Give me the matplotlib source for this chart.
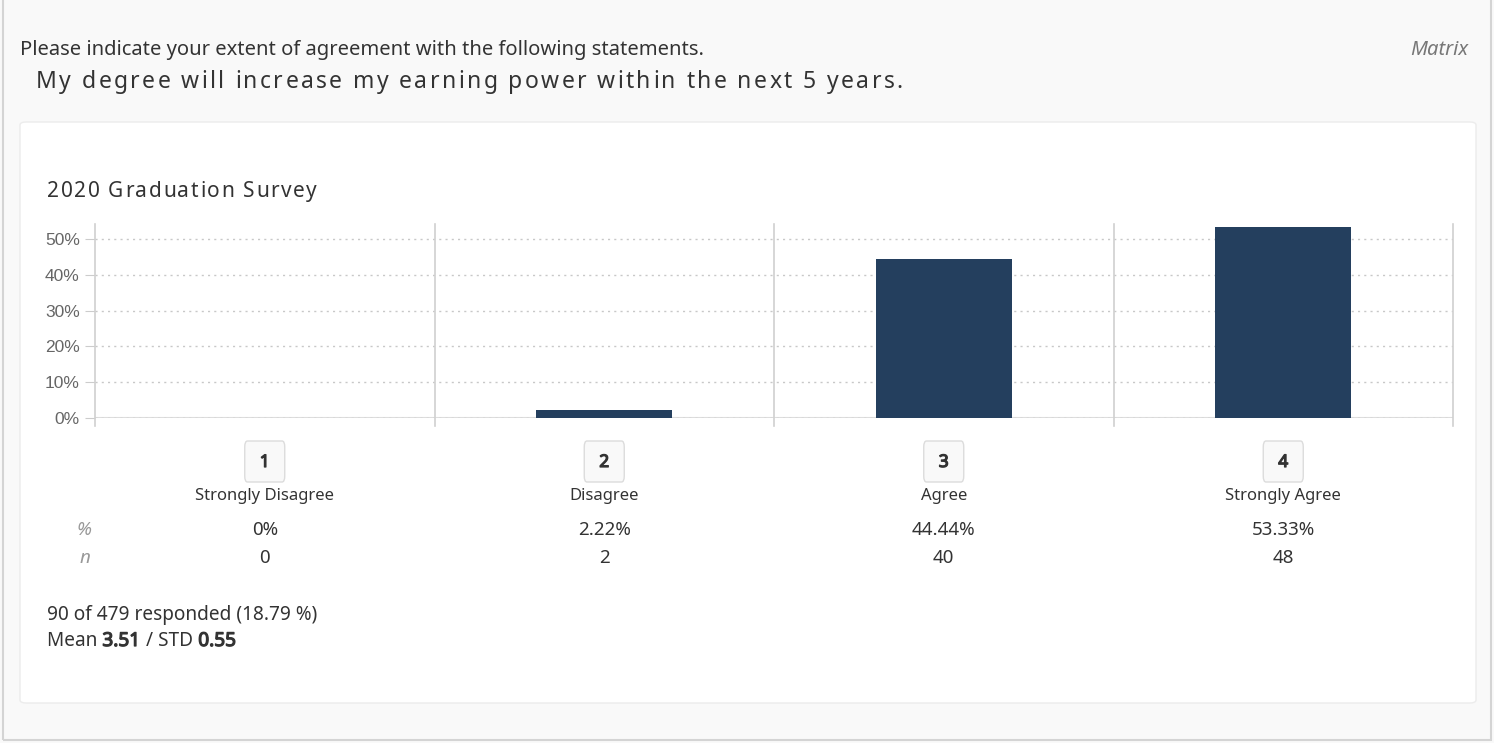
import matplotlib.pyplot as plt
import matplotlib.patheffects as pe
from matplotlib.patches import FancyBboxPatch, Rectangle
from matplotlib.transforms import blended_transform_factory

plt.rcParams['font.family'] = ['Noto Sans', 'DejaVu Sans']

# data
codes = ['1', '2', '3', '4']
labels = ['Strongly Disagree', 'Disagree', 'Agree', 'Strongly Agree']
percents = [0.0, 2.22, 44.44, 53.33]
counts = [0, 2, 40, 48]
pct_text = ['0%', '2.22%', '44.44%', '53.33%']
yticks = [0, 10, 20, 30, 40, 50]

W, H = 1494, 743
fig = plt.figure(figsize=(W / 100, H / 100), dpi=100)
fig.patch.set_facecolor('#f9f9f9')
renderer = fig.canvas.get_renderer()

# bold weight of the installed Noto Sans is not picked up, so thicken with a stroke
bold = [pe.withStroke(linewidth=0.9, foreground='#333333')]


def fx(px):
    return px / W


def fy(py):
    return 1 - py / H


def text_w(s, **kw):
    t = fig.text(0, 0, s, **kw)
    w = t.get_window_extent(renderer=renderer).width
    t.remove()
    return w


def advance(s, **kw):
    # width of s including trailing spaces
    return text_w(s + 'l', **kw) - text_w('l', **kw)


def spaced_text(x, y, s, sp, **kw):
    # text with letter spacing (sp in pixels)
    for i, ch in enumerate(s):
        if ch == ' ':
            continue
        xi = x + advance(s[:i], **kw) + i * sp
        fig.text(fx(xi), fy(y), ch, ha='left', va='baseline', **kw)


# outer border and card
fig.patches.append(Rectangle((fx(3), fy(740)), fx(1488), 745 / H, transform=fig.transFigure,
                             fill=False, edgecolor='#d4d4d4', lw=1.5))
fig.patches.append(FancyBboxPatch((fx(20), fy(703)), fx(1456), (703 - 122) / H,
                                  boxstyle='round,pad=0,rounding_size=0.004',
                                  transform=fig.transFigure, facecolor='white',
                                  edgecolor='#ececec', lw=1))

# headings
fig.text(fx(20), fy(55), 'Please indicate your extent of agreement with the following statements.',
         fontsize=14.5, color='#333333', va='baseline', ha='left')
fig.text(fx(1468), fy(55), 'Matrix', fontsize=14.5, color='#777777', style='italic',
         va='baseline', ha='right')
spaced_text(36, 88, 'My degree will increase my earning power within the next 5 years.', 2.4,
            fontsize=16.5, color='#333333')
spaced_text(47, 197, '2020 Graduation Survey', 1.6, fontsize=15, color='#333333')

# chart
ax = fig.add_axes([fx(95), 1 - 418 / H, fx(1453 - 95), (418 - 224) / H])
ax.set_zorder(2)
ax.patch.set_alpha(0)
ax.set_xlim(-0.5, 3.5)
ax.set_ylim(0, 54.2)
ax.bar(range(len(percents)), percents, width=0.4, color='#243f5e', zorder=3)

for s in ['top', 'right', 'bottom', 'left']:
    ax.spines[s].set_visible(False)
ax.set_yticks(yticks)
ax.set_yticklabels([f'{t}%' for t in yticks], family=['Liberation Sans', 'DejaVu Sans'])
ax.tick_params(axis='y', colors='#cccccc', labelcolor='#666666', labelsize=12.5, length=7, pad=4)
ax.set_xticks([])
ax.yaxis.grid(True, linestyle=(0, (1.5, 3)), color='#c8c8c8', lw=1, zorder=0)
ax.axhline(0, color='#dddddd', lw=1.5, zorder=1)
for xs in [-0.5, 0.5, 1.5, 2.5, 3.5]:
    ax.plot([xs, xs], [-2.2, 54.2], color='#d0d0d0', lw=1.2, clip_on=False, zorder=2)

# category boxes, labels, % and n rows
tr = blended_transform_factory(ax.transData, fig.transFigure)
box_w = 40 / 339.5
for i in range(len(codes)):
    ax.add_patch(FancyBboxPatch((i - box_w / 2, fy(482)), box_w, 41 / H,
                                boxstyle='round,pad=0,rounding_size=0.008', transform=tr,
                                facecolor='#f9f9f9', edgecolor='#dcdcdc', lw=1,
                                clip_on=False, zorder=4))
    ax.text(i, fy(467), codes[i], transform=tr, ha='center', va='baseline', fontsize=12.5,
            color='#333333', zorder=5, path_effects=bold)
    ax.text(i, fy(500), labels[i], transform=tr, ha='center', va='baseline', fontsize=12,
            color='#333333')
    ax.text(i, fy(535), pct_text[i], transform=tr, ha='center', va='baseline', fontsize=13.5,
            color='#333333')
    ax.text(i, fy(563), str(counts[i]), transform=tr, ha='center', va='baseline', fontsize=13.5,
            color='#333333')

fig.text(fx(84.5), fy(535), '%', fontsize=13.5, color='#999999', style='italic',
         ha='center', va='baseline')
fig.text(fx(84.5), fy(563), 'n', fontsize=13.5, color='#999999', style='italic',
         ha='center', va='baseline')

# summary
fig.text(fx(47), fy(620), '90 of 479 responded (18.79 %)', fontsize=13.7, color='#333333',
         ha='left', va='baseline')
x = 47
for txt, is_bold in [('Mean ', False), ('3.51', True), (' / STD ', False), ('0.55', True)]:
    fig.text(fx(x), fy(646), txt, fontsize=13.7, color='#333333', ha='left', va='baseline',
             path_effects=bold if is_bold else None)
    x += advance(txt, fontsize=13.7) + (1 if is_bold else 0)

fig.savefig('out.png', dpi=100, facecolor=fig.get_facecolor())
